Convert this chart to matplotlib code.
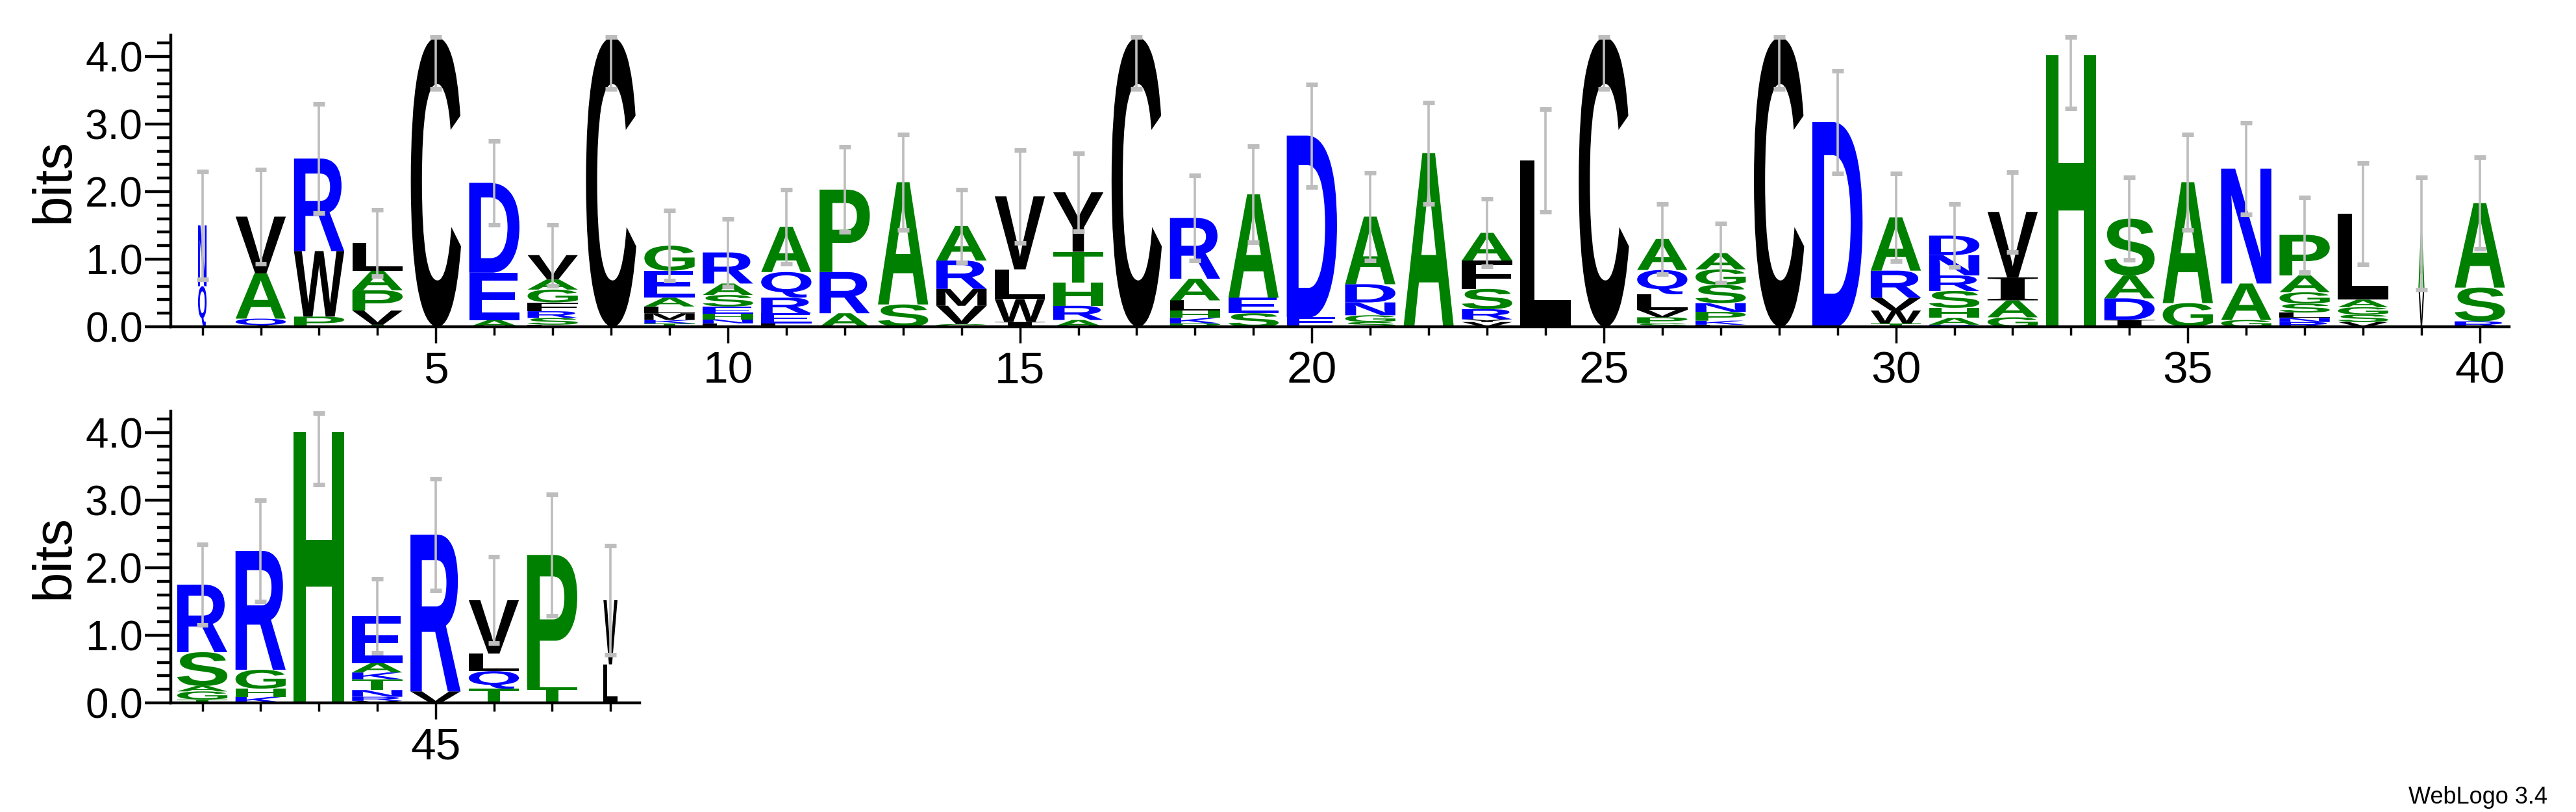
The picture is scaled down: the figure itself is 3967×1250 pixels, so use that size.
import matplotlib
matplotlib.use("Agg")
import matplotlib.pyplot as plt
from matplotlib.textpath import TextPath
from matplotlib.font_manager import FontProperties
from matplotlib.patches import PathPatch
from matplotlib.path import Path
from matplotlib.transforms import Affine2D
from matplotlib.ticker import MultipleLocator

# stacks from bottom to top: letters and their heights in bits
letters = [
    "QN", "QAV", "PWR", "TVPAL", "C", "AED", "LSRFGAV", "C", "TKMLAEG", "LNHESAR",
    "LERQA", "ARP", "SA", "GVMRA", "IWLV", "ARHTY", "C", "PKHLAR", "SEA", "ED",
    "SGNDA", "A", "VYRSFA", "L", "C", "SPVLQA", "LKPNSGA", "C", "D", "TWVRA",
    "DAHSRND", "GAIV", "H", "IDAS", "GA", "GAN", "RNLSGAP", "VSGAL", "VA", "RSA",
    "TGASR", "KHGR", "H", "VRNTKAE", "VR", "TQLV", "TP", "LV",
]
heights = [
    [0.6, 0.9], [0.12, 0.67, 0.84], [0.15, 0.97, 1.37], [0.03, 0.21, 0.30, 0.29, 0.41],
    [4.28], [0.10, 0.70, 1.33], [0.03, 0.10, 0.10, 0.13, 0.19, 0.15, 0.36], [4.28],
    [0.05, 0.05, 0.10, 0.10, 0.13, 0.40, 0.37], [0.05, 0.06, 0.08, 0.11, 0.17, 0.17, 0.46],
    [0.05, 0.15, 0.23, 0.38, 0.67], [0.20, 0.61, 1.22], [0.33, 1.81],
    [0.04, 0.27, 0.25, 0.42, 0.51], [0.07, 0.34, 0.44, 1.08], [0.10, 0.21, 0.34, 0.46, 0.88],
    [4.28], [0.05, 0.08, 0.11, 0.15, 0.32, 0.90], [0.20, 0.23, 1.53], [0.14, 2.69],
    [0.07, 0.10, 0.19, 0.27, 1.00], [2.57], [0.07, 0.04, 0.15, 0.30, 0.42, 0.41], [2.46],
    [4.28], [0.05, 0.09, 0.11, 0.23, 0.36, 0.46], [0.03, 0.06, 0.13, 0.13, 0.27, 0.23, 0.24],
    [4.28], [3.03], [0.05, 0.19, 0.19, 0.40, 0.79],
    [0.03, 0.10, 0.15, 0.25, 0.23, 0.30, 0.29], [0.14, 0.25, 0.34, 0.97], [4.02],
    [0.10, 0.32, 0.34, 0.84], [0.35, 1.79], [0.10, 0.54, 1.70],
    [0.07, 0.06, 0.08, 0.13, 0.17, 0.25, 0.60], [0.07, 0.11, 0.11, 0.11, 1.27], [0.58, 0.80],
    [0.08, 0.50, 1.25], [0.05, 0.12, 0.08, 0.50, 1.00], [0.09, 0.12, 0.28, 1.76], [4.01],
    [0.03, 0.06, 0.10, 0.16, 0.10, 0.14, 0.70], [0.17, 2.32], [0.21, 0.26, 0.26, 0.79],
    [0.23, 1.96], [0.57, 0.95],
]
errors = [
    0.80, 0.70, 0.81, 0.49, 0.76, 0.62, 0.45, 0.76, 0.52, 0.50,
    0.55, 0.63, 0.71, 0.54, 0.69, 0.58, 0.76, 0.63, 0.71, 0.76,
    0.65, 0.75, 0.50, 0.76, 0.76, 0.52, 0.44, 0.76, 0.76, 0.65,
    0.47, 0.59, 0.79, 0.61, 0.71, 0.68, 0.55, 0.75, 0.83, 0.68,
    0.60, 0.75, 0.78, 0.55, 0.83, 0.64, 0.90, 0.81,
]
# relative stack widths (gapped columns are narrower)
widths = [1.0] * 48
widths[0] = 0.17
widths[38] = 0.12
widths[47] = 0.28

ymax = 4.32
blue = "#0000ff"
green = "#008000"
colors = {}
for c in "RDEQNK":
    colors[c] = blue
for c in "APGSTH":
    colors[c] = green
for c in "CLVWIMFY":
    colors[c] = "black"

fp = FontProperties(family="Liberation Sans", weight="bold")
fp_serif = FontProperties(family="Liberation Serif", weight="bold")
glyphs = {}


def get_glyph(ch):
    if ch not in glyphs:
        p = TextPath((0, 0), ch, size=100, prop=fp_serif if ch == "I" else fp)
        v = p.vertices[p.codes != Path.CLOSEPOLY]
        glyphs[ch] = (p, v[:, 0].min(), v[:, 1].min(), v[:, 0].max(), v[:, 1].max())
    return glyphs[ch]


def draw_letter(ax, ch, x, y0, w, h):
    path, x0, yb, x1, yt = get_glyph(ch)
    tr = (Affine2D().translate(-x0, -yb)
          .scale(w / (x1 - x0), h / (yt - yb))
          .translate(x - w / 2, y0))
    ax.add_patch(PathPatch(tr.transform_path(path), facecolor=colors[ch], edgecolor="none", lw=0, zorder=2))


def draw_logo(ax, first, last):
    for i in range(first, last + 1):
        k = i - 1
        w = 0.86 * widths[k]
        y = 0.0
        for ch, h in zip(letters[k], heights[k]):
            draw_letter(ax, ch, i, y, w, h)
            y += h
        lo = y - errors[k]
        hi = min(y + errors[k], 4.29)
        ax.plot([i, i], [lo, hi], color="#bdbdbd", lw=2.6, zorder=3, solid_capstyle="butt")
        ax.plot([i - 0.1, i + 0.1], [lo, lo], color="#bdbdbd", lw=5, zorder=3, solid_capstyle="butt")
        ax.plot([i - 0.1, i + 0.1], [hi, hi], color="#bdbdbd", lw=5, zorder=3, solid_capstyle="butt")
    ax.set_ylim(0, ymax)
    ax.set_xlim(first - 0.54, last + 0.5)
    for s in ["top", "right"]:
        ax.spines[s].set_visible(False)
    for s in ["left", "bottom"]:
        ax.spines[s].set_linewidth(3.2)
    ax.xaxis.set_major_locator(MultipleLocator(5))
    ax.xaxis.set_minor_locator(MultipleLocator(1))
    ax.yaxis.set_minor_locator(MultipleLocator(0.2))
    ax.set_yticks([0, 1, 2, 3, 4])
    ax.set_yticklabels(["0.0", "1.0", "2.0", "3.0", "4.0"])
    ax.tick_params(axis="y", which="major", length=29, width=3.2, labelsize=46, pad=2)
    ax.tick_params(axis="y", which="minor", length=15, width=3.2)
    ax.tick_params(axis="x", which="major", length=18, width=2.5, labelsize=50, pad=8)
    ax.tick_params(axis="x", which="minor", length=9, width=2.5)
    ax.set_ylabel("bits", fontsize=60, family="Liberation Sans", labelpad=6)


fig = plt.figure(figsize=(39.67, 12.5), dpi=100)
ax1 = fig.add_axes([0.0663, 0.5976, 0.9077, 0.3594])
draw_logo(ax1, 1, 40)
ax2 = fig.add_axes([0.0663, 0.1344, 0.1820, 0.3594])
draw_logo(ax2, 41, 48)
ax2.set_xticks([45])
ax1.set_xticks([5, 10, 15, 20, 25, 30, 35, 40])
for ax in [ax1, ax2]:
    for lab in ax.get_xticklabels() + ax.get_yticklabels():
        lab.set_family(["Liberation Sans Narrow", "Liberation Sans"])

fig.text(0.989, 0.018, "WebLogo 3.4", ha="right", va="center", fontsize=26, family="Liberation Sans")
fig.savefig("out.png", dpi=100)
